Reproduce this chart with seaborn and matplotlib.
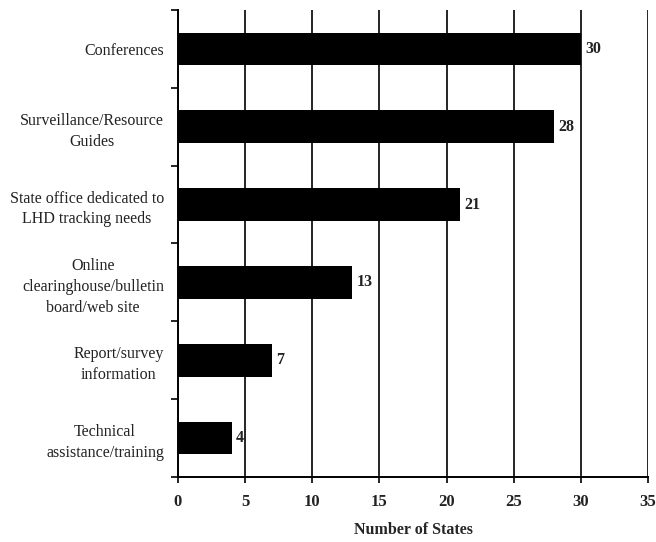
import matplotlib
matplotlib.use("Agg")
import matplotlib.pyplot as plt
import numpy as np
import pandas as pd
import seaborn as sns

categories = ["Conferences",
              "Surveillance/Resource\nGuides",
              "State office dedicated to\nLHD tracking needs",
              "Online\nclearinghouse/bulletin\nboard/web site",
              "Report/survey\ninformation",
              "Technical\nassistance/training"]
values = [30, 28, 21, 13, 7, 4]
xticks = [0, 5, 10, 15, 20, 25, 30, 35]

df = pd.DataFrame({"cat": categories, "n": values})

sns.set_style("white")
plt.rcParams["font.family"] = ["Liberation Serif", "DejaVu Serif"]

fig = plt.figure(figsize=(6.56, 5.42), dpi=100)
ax = fig.add_axes([0.271, 0.120, 0.717, 0.8615])

sns.barplot(data=df, y="cat", x="n", orient="h", color="black",
            width=0.42, saturation=1, linewidth=0, ax=ax, zorder=3)

ax.set_xlim(0, 35)
ax.set_ylim(5.5, -0.5)
ax.set_xticks(xticks)
ax.set_xticklabels([str(t) for t in xticks], fontweight="bold", fontsize=12,
                   color="#222222")
ax.grid(axis="x", color="black", lw=1.2, zorder=0)
ax.set_axisbelow(True)

ax.set_yticks(range(len(categories)))
ax.set_yticklabels(categories, fontsize=11.5, color="#222222",
                   multialignment="center", linespacing=1.4)
ax.tick_params(axis="y", which="major", left=False, length=0, pad=10)
ax.set_yticks(np.arange(-0.5, len(categories), 1), minor=True)
ax.tick_params(axis="y", which="minor", left=True, length=5, width=1.2,
               color="black", direction="out")
ax.tick_params(axis="x", bottom=True, length=4, width=1.2, color="black",
               direction="out", pad=8)

for s in ["top", "right"]:
    ax.spines[s].set_visible(False)
for s in ["left", "bottom"]:
    ax.spines[s].set_color("black")
    ax.spines[s].set_linewidth(1.4)

for i, v in enumerate(values):
    ax.text(v + 0.35, i, str(v), va="center", ha="left", fontsize=11.5,
            fontweight="bold", color="#222222")

ax.set_ylabel("")
ax.set_xlabel("Number of States", fontsize=11.5, fontweight="bold", labelpad=9)

fig.savefig("out.png", dpi=100)
